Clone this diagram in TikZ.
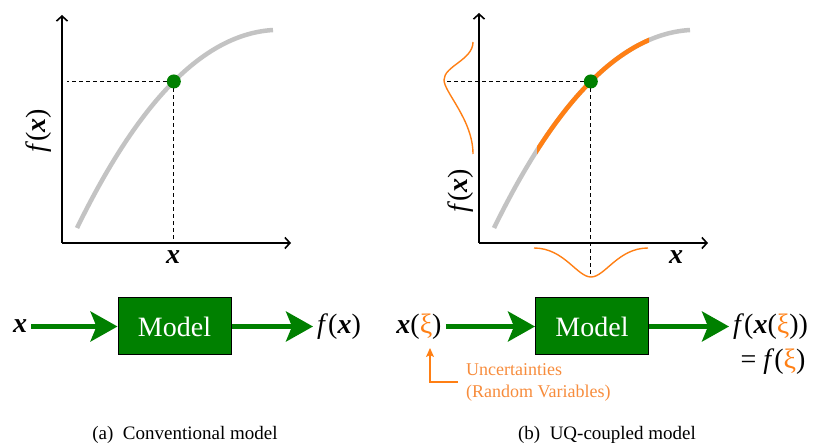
\documentclass[tikz,border=0pt]{standalone}
\usepackage{fontspec}
\setmainfont{Liberation Serif}
\usepackage{xcolor}
\usetikzlibrary{arrows.meta, positioning, calc}
\definecolor{modelgreen}{RGB}{0, 128, 0}
\definecolor{uqorange}{RGB}{255, 127, 20}
\definecolor{notetext}{RGB}{247, 140, 60}
\definecolor{curvegray}{RGB}{195, 195, 195}

\newcommand{\bx}{\textbf{\textit{x}}}
\newcommand{\fx}{\textit{f}}

\begin{document}
\begin{tikzpicture}[x=1pt, y=-1pt,
    axis/.style={draw, line width=1.6pt, -{Straight Barb[length=5pt, width=11pt, line width=1.6pt]}},
    curve/.style={draw=curvegray, line width=4.5pt},
    uqcurve/.style={draw=uqorange, line width=4.5pt},
    bell/.style={draw=uqorange, line width=1.4pt},
    guide/.style={draw, line width=0.9pt, dash pattern=on 4pt off 3pt},
    lbl/.style={inner sep=4pt, font=\fontsize{28}{30}\selectfont},
    modelbox/.style={rectangle, draw=black, line width=1pt, fill=modelgreen, text=white, minimum width=113pt, minimum height=57pt, font=\fontsize{28}{30}\selectfont},
    flow/.style={draw=modelgreen, line width=4.5pt, -{Stealth[length=27pt, width=30pt, inset=6pt]}},
    note/.style={text=notetext, align=left, inner xsep=8pt, inner ysep=3pt, font=\fontsize{18}{22}\selectfont},
    notearrow/.style={draw=uqorange, line width=1.3pt, -{Stealth[length=9pt, width=8pt, inset=2pt]}},
    caption/.style={font=\fontsize{19}{22}\selectfont}]
    \useasboundingbox (0,0) rectangle (814,443);

    % (a) conventional model
    \coordinate (oa) at (62,243);
    \path [axis] (oa) -- (62,15);
    \path [axis] (oa) -- (291,243);
    \path [curve] (77,228) .. controls (125,130) and (190,35) .. (273,30) coordinate[pos=0.56] (pa);
    \path [guide] (pa) -- ($(pa -| oa)+(5,0)$);
    \path [guide] (pa) -- (pa |- oa);
    \fill [modelgreen] (pa) circle (7);
    \node [lbl] (xlabela) at (173,257) {\bx};
    \node [lbl, rotate=90] (flabela) at (39,131) {\fx(\bx)};

    % (b) UQ-coupled model
    \coordinate (ob) at (479,243);
    \path [axis] (ob) -- (479,13);
    \path [axis] (ob) -- (708,243);
    \path [curve] (494,228) .. controls (542,130) and (607,35) .. (690,30) coordinate[pos=0.56] (pb);
    \begin{scope}
      \clip (537,0) rectangle (649,300);
      \path [uqcurve] (494,228) .. controls (542,130) and (607,35) .. (690,30);
    \end{scope}
    \coordinate (lpeak) at (444,80);
    \coordinate (bpeak) at (591,277);
    \path [bell] (473,42) .. controls (473,60) and (444,66) .. (lpeak)
                 .. controls (444,92) and (473,120) .. (473,154);
    \path [bell] (534,248) .. controls (564,248) and (577,277) .. (bpeak)
                 .. controls (605,277) and (618,248) .. (648,248);
    \path [guide] (pb) -- (pb -| lpeak);
    \path [guide] (pb) -- (pb |- bpeak);
    \fill [modelgreen] (pb) circle (7);
    \node [lbl] (xlabelb) at (676,257) {\bx};
    \node [lbl, rotate=90] (flabelb) at (461,191) {\fx(\bx)};

    % block diagrams
    \node [lbl] (xa) at (20,326.5) {\bx};
    \node [modelbox] (ma) at (174.5,326.5) {Model};
    \node [lbl, anchor=west] (fa) at (313,326.5) {\fx(\bx)};
    \path [flow] (xa) -- (ma);
    \path [flow] (ma) -- (fa);

    \node [lbl] (xb) at (419,326.5) {\bx(\textcolor{uqorange}{ξ})};
    \node [modelbox] (mb) at (592,326.5) {Model};
    \node [lbl, anchor=west] (fb) at (729,326.5) {\fx(\bx(\textcolor{uqorange}{ξ}))};
    \node [lbl] (eqb) at (773,362) {= \fx(\textcolor{uqorange}{ξ})};
    \path [flow] (xb) -- (mb);
    \path [flow] (mb) -- (fb);

    \coordinate (xitip) at (430,348);
    \node [note, anchor=west] (unc) at (458,382) {Uncertainties\\(Random Variables)};
    \path [notearrow] (unc.west) -| (xitip);

    \node [caption] (capa) at (185,435) {(a)\ \ Conventional model};
    \node [caption] (capb) at (607,435) {(b)\ \ UQ-coupled model};
\end{tikzpicture}
\end{document}
